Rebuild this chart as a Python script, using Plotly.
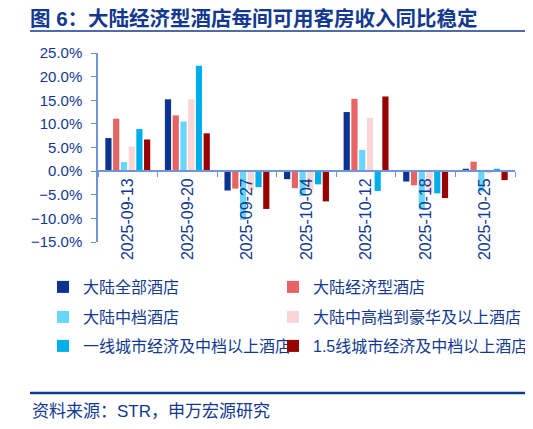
import plotly.graph_objects as go

dates = ['2025-09-13', '2025-09-20', '2025-09-27', '2025-10-04', '2025-10-12', '2025-10-18', '2025-10-25']

# RevPAR yoy, %
all_hotels = [7.0, 15.2, -4.1, -1.7, 12.5, -2.2, 0.5]
economy = [11.1, 11.8, -3.7, -3.6, 15.3, -3.0, 2.0]
midscale = [1.9, 10.5, -10.3, -5.3, 4.5, -8.1, -4.3]
upscale_lux = [5.2, 15.2, -4.0, -4.0, 11.3, -4.6, -0.5]
tier1 = [8.9, 22.3, -3.4, -2.8, -4.2, -4.7, 0.5]
tier15 = [6.7, 8.0, -8.0, -6.4, 15.8, -5.7, -1.9]

names = ['大陆全部酒店', '大陆经济型酒店', '大陆中档酒店', '大陆中高档到豪华及以上酒店',
         '一线城市经济及中档以上酒店', '1.5线城市经济及中档以上酒店']
colors = ['#0b3390', '#e86464', '#66d6fc', '#fad5d6', '#00aeec', '#990000']
series = [all_hotels, economy, midscale, upscale_lux, tier1, tier15]

# page has an 8px body margin, so work in page pixels and subtract it
OFF = 8
W, H = 533 - OFF, 429 - OFF
L, R, T, B = 98 - OFF, 515 - OFF, 53 - OFF, 242 - OFF
BLUE = '#12398f'
AXIS = '#6f94d8'
FONT = 'Liberation Sans, Noto Sans CJK SC, sans-serif'


def px(x):
    return (x - OFF - L) / (R - L)


def py(y):
    return (B - (y - OFF)) / (B - T)


# legend grid: 2 columns x 3 rows (page pixels)
leg_x = [43, 273]
leg_y = [287, 317, 346]

fig = go.Figure()
legends = {}
for i, (name, vals, c) in enumerate(zip(names, series, colors)):
    lid = 'legend' if i == 0 else 'legend%d' % (i + 1)
    fig.add_trace(go.Bar(x=dates, y=vals, name=name, marker_color=c,
                         marker_line_width=0, legend=lid, showlegend=True))
    legends[lid] = dict(x=(leg_x[i % 2] - OFF) / W, y=1 - (leg_y[i // 2] - OFF) / H,
                        xref='container', yref='container',
                        xanchor='left', yanchor='middle',
                        font=dict(size=16, color=BLUE, family=FONT),
                        bgcolor='rgba(0,0,0,0)', borderwidth=0, itemclick=False)

fig.update_layout(
    width=W, height=H, showlegend=True,
    margin=dict(l=L, r=W - R, t=T, b=H - B, autoexpand=False),
    paper_bgcolor='white', plot_bgcolor='white',
    font=dict(family=FONT, color=BLUE, size=16),
    barmode='group', bargap=0.22, bargroupgap=0.2,
    title=dict(text='<b>图 6：大陆经济型酒店每间可用客房收入同比稳定</b>',
               x=(30 - OFF) / W, xanchor='left', xref='container',
               y=1 - (19 - OFF) / H, yanchor='middle', yref='container',
               font=dict(size=20.5, color=BLUE, family=FONT)),
    xaxis=dict(type='category', anchor='free', position=15 / 40,
               showline=True, linecolor=AXIS, linewidth=1.5,
               ticks='outside', tickson='boundaries', ticklen=5, tickcolor=AXIS,
               tickangle=-90, tickfont=dict(size=16, color=BLUE), showgrid=False),
    yaxis=dict(range=[-15, 25], dtick=5, tickformat='.1f', ticksuffix='%',
               showline=True, linecolor=AXIS, linewidth=1.5,
               ticks='outside', ticklen=5, tickcolor=AXIS, ticklabelstandoff=6,
               showgrid=False, zeroline=False,
               tickfont=dict(size=15, color=BLUE)),
    shapes=[
        dict(type='line', xref='paper', yref='paper', x0=px(30), x1=px(533),
             y0=py(31), y1=py(31), line=dict(color=BLUE, width=1.5)),
        dict(type='line', xref='paper', yref='paper', x0=px(30), x1=px(533),
             y0=py(393), y1=py(393), line=dict(color=BLUE, width=2.5)),
    ],
    annotations=[
        dict(text='资料来源：STR，申万宏源研究', xref='paper', yref='paper',
             x=px(30), y=py(411), xanchor='left', yanchor='middle',
             showarrow=False, font=dict(size=17, color=BLUE, family=FONT)),
    ],
    **legends,
)

fig.write_html('out.html')
